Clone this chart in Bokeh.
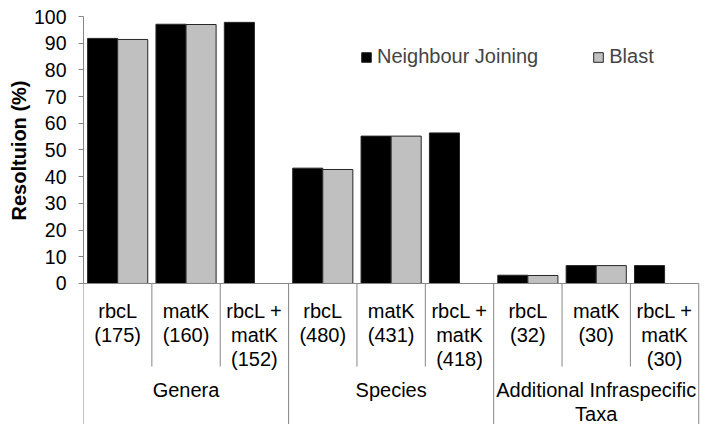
import numpy as np
from bokeh.plotting import figure
from bokeh.models import Range1d, FixedTicker, Legend, LegendItem, ColumnDataSource, Title
from bokeh.core.properties import value
from bokeh.embed import file_html
from bokeh.resources import INLINE

# ---- data ----
groups = ["Genera", "Species", "Additional Infraspecific\nTaxa"]
markers = ["rbcL", "matK", "rbcL +\nmatK"]
counts = [175, 160, 152, 480, 431, 418, 32, 30, 30]
neighbour_joining = [91.8, 97.1, 97.8, 43.2, 55.2, 56.4, 3.1, 6.7, 6.7]
blast = [91.4, 97.0, np.nan, 42.7, 55.2, np.nan, 3.0, 6.7, np.nan]
y_ticks = [0, 10, 20, 30, 40, 50, 60, 70, 80, 90, 100]
y_title = "Resoltuion (%)"

n_cat = len(counts)
n_mark = len(markers)
idx = np.arange(n_cat)
cat_labels = [f"{markers[i % n_mark]}\n({counts[i]})" for i in range(n_cat)]

FONT = "Liberation Sans"
AXIS_GRAY = "#868686"

p = figure(width=702, height=424,
           x_range=Range1d(0, 9.04), y_range=Range1d(-52.81, 100),
           output_backend="svg", toolbar_location=None,
           x_axis_location=None,
           min_border_left=83, min_border_top=16, min_border_bottom=0, min_border_right=1)
p.outline_line_color = None
p.xgrid.grid_line_color = None
p.ygrid.grid_line_color = None

ax = p.yaxis[0]
ax.ticker = FixedTicker(ticks=y_ticks)
ax.bounds = (0, 100)
ax.major_tick_out = 5
ax.major_tick_in = 0
ax.minor_tick_out = 0
ax.minor_tick_in = 0
ax.axis_line_color = AXIS_GRAY
ax.major_tick_line_color = AXIS_GRAY
ax.major_label_text_font = FONT
ax.major_label_text_font_size = "19.5px"
ax.major_label_text_color = "black"
ax.major_label_standoff = 12

# axis title, placed alongside the 0-100 part of the axis
p.add_layout(Title(text=y_title, align="right", offset=64, standoff=2,
                   text_font=FONT, text_font_style="bold", text_font_size="20px",
                   text_color="black"), "left")

src = ColumnDataSource(dict(
    x_nj=idx + 0.28, x_bl=idx + 0.72,
    nj=np.array(neighbour_joining), bl=np.array(blast),
))

r_nj = p.vbar(x="x_nj", top="nj", bottom=0, width=0.44, source=src,
              fill_color="black", line_color="#262626", line_width=1)
r_bl = p.vbar(x="x_bl", top="bl", bottom=0, width=0.44, source=src,
              fill_color="#C0C0C0", line_color="#262626", line_width=1)

# category axis line and separators
p.segment(x0=[0], y0=[0], x1=[n_cat], y1=[0], line_color=AXIS_GRAY, line_width=1)
b = np.arange(n_cat + 1)
is_group = (b % n_mark) == 0
y_end = np.where(is_group, -52.81, -31.1)
p.segment(x0=b, y0=np.zeros(len(b)), x1=b, y1=y_end, line_color=AXIS_GRAY, line_width=1)

# category labels
p.text(x=idx + 0.5, y=np.full(n_cat, -6.0), text=cat_labels,
       text_align="center", text_baseline="top",
       text_font=value(FONT), text_font_size=value("20px"),
       text_line_height=1.1, text_color="black")

# group labels
gx = np.arange(len(groups)) * n_mark + n_mark / 2
p.text(x=gx, y=np.full(len(groups), -35.6), text=groups,
       text_align="center", text_baseline="top",
       text_font=value(FONT), text_font_size=value("20px"),
       text_line_height=1.1, text_color="black")

legend = Legend(items=[LegendItem(label="Neighbour Joining", renderers=[r_nj]),
                       LegendItem(label="Blast", renderers=[r_bl])],
                orientation="horizontal", location=(277, 356),
                glyph_width=12, glyph_height=12, label_standoff=5, spacing=54,
                padding=0, margin=0, border_line_color=None,
                background_fill_alpha=0,
                label_text_font=FONT, label_text_font_size="20px")
p.add_layout(legend)

open("out.html", "w").write(file_html(p, INLINE))
